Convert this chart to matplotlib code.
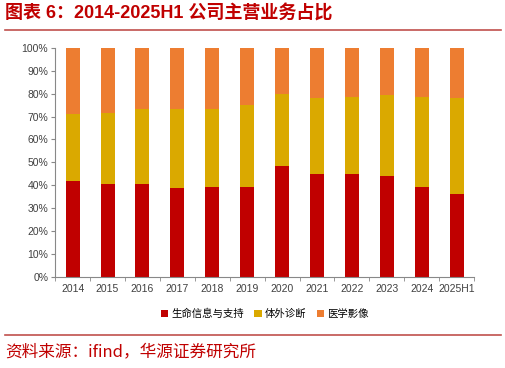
import matplotlib.pyplot as plt
import numpy as np

plt.rcParams['font.family'] = ['Liberation Sans', 'Noto Sans CJK SC', 'DejaVu Sans']

years = ["2014", "2015", "2016", "2017", "2018", "2019", "2020", "2021",
         "2022", "2023", "2024", "2025H1"]
life_support = [41.8, 40.6, 40.6, 38.9, 39.2, 39.4, 48.2, 44.7, 44.7, 44.1, 39.2, 36.2]
ivd = [29.4, 31.0, 32.6, 34.3, 34.0, 35.6, 31.7, 33.5, 33.8, 35.5, 39.3, 42.0]
imaging = [100 - a - b for a, b in zip(life_support, ivd)]

names = ["生命信息与支持", "体外诊断", "医学影像"]
colors = ["#C00000", "#DAA900", "#ED7D31"]

fig = plt.figure(figsize=(5.06, 3.68), dpi=100)
ax = fig.add_axes([0.109, 0.248, 0.828, 0.622])

x = np.arange(len(years))
bottom = np.zeros(len(years))
for vals, name, c in zip([life_support, ivd, imaging], names, colors):
    ax.bar(x, vals, 0.4, bottom=bottom, color=c, label=name)
    bottom += np.array(vals)

ax.set_xlim(-0.5, len(years) - 0.5)
ax.set_ylim(0, 100)
ax.set_yticks(range(0, 101, 10))
ax.set_yticklabels([f"{v}%" for v in range(0, 101, 10)], fontsize=7.5, color="#404040")
ax.set_xticks(x)
ax.set_xticklabels(years, fontsize=7.5, color="#404040")
ax.set_xticks(np.arange(-0.5, len(years), 1), minor=True)
ax.tick_params(axis="x", which="major", length=0, pad=5)
ax.tick_params(axis="x", which="minor", length=3, color="#888888")
ax.tick_params(axis="y", length=3, color="#888888", pad=2)
for s in ["top", "right"]:
    ax.spines[s].set_visible(False)
for s in ["left", "bottom"]:
    ax.spines[s].set_color("#888888")
    ax.spines[s].set_linewidth(0.8)

ax.legend(loc="upper center", bbox_to_anchor=(0.5, -0.1), ncol=3, frameon=False,
          fontsize=7.5, handlelength=0.7, handleheight=0.7, handletextpad=0.3,
          columnspacing=1.0)

fig.text(0.01, 0.962, "图表 6：2014-2025H1 公司主营业务占比", fontsize=13,
         fontweight="bold", color="#C00000", va="center")
fig.add_artist(plt.Line2D([0.01, 0.99], [0.918, 0.918], color="#C0504D", lw=1.2))
fig.add_artist(plt.Line2D([0.01, 0.99], [0.09, 0.09], color="#C0504D", lw=1.2))
fig.text(0.01, 0.043, "资料来源：ifind，华源证券研究所", fontsize=12,
         color="#C00000", va="center", family=['Noto Sans CJK SC'])

fig.savefig("out.png", dpi=100)
